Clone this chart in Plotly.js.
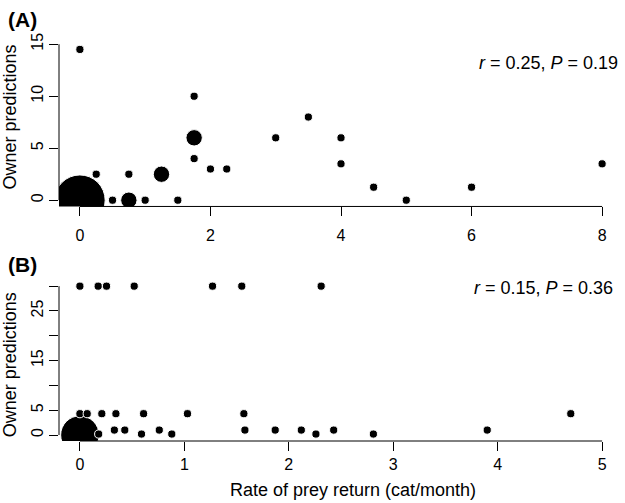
<!DOCTYPE html>
<html>
<head>
<meta charset="utf-8">
<script src="https://cdn.plot.ly/plotly-3.0.1.min.js"></script>
<style>
  body { margin: 0; background: #fff; }
  #chart { width: 625px; height: 503px; }
</style>
</head>
<body>
<div id="chart"></div>
<script>
// panel A: prey return rate vs owner predictions
var rateA = [0, 0, 0.25, 0.5, 0.75, 0.75, 1, 1.25, 1.5, 1.75, 1.75, 1.75, 2, 2.25, 3, 3.5, 4, 4, 4.5, 5, 6, 8];
var predA = [0, 14.5, 2.5, 0, 0, 2.5, 0, 2.5, 0, 10, 6, 4, 3, 3, 6, 8, 6, 3.5, 1.25, 0, 1.25, 3.5];
var catsA = [38, 1, 1, 1, 4, 1, 1, 4, 1, 1, 4, 1, 1, 1, 1, 1, 1, 1, 1, 1, 1, 1];

// panel B
var rateB = [0,
  0, 0.175, 0.255, 0.52, 1.27, 1.55, 2.31,
  0, 0.07, 0.21, 0.345, 0.61, 1.03, 1.57, 4.7,
  0.33, 0.43, 0.76, 1.58, 1.87, 2.12, 2.43, 3.9,
  0.18, 0.59, 0.88, 2.26, 2.81];
var predB = [0,
  30, 30, 30, 30, 30, 30, 30,
  4.3, 4.3, 4.3, 4.3, 4.3, 4.3, 4.3, 4.3,
  1, 1, 1, 1, 1, 1, 1, 1,
  0.2, 0.2, 0.2, 0.2, 0.2];
var catsB = [22].concat(rateB.slice(1).map(function() { return 1; }));

var ticksXA = [0, 2, 4, 6, 8];
var ticksYA = [0, 5, 10, 15];
var ticksXB = [0, 1, 2, 3, 4, 5];
var ticksYB = [0, 5, 10, 15, 20, 25, 30];
var labelsYB = ["0", "5", "", "15", "", "25", ""];

var font = "Liberation Sans, Arial, sans-serif";

function sizes(n) {
    return n.map(function(v) { return 8.2 * Math.sqrt(v); });
}

var data = [
    { x: rateA, y: predA, type: "scatter", mode: "markers", xaxis: "x", yaxis: "y",
      marker: { color: "#000", opacity: 1, size: sizes(catsA) } },
    { x: rateB, y: predB, type: "scatter", mode: "markers", xaxis: "x2", yaxis: "y2",
      marker: { color: "#000", opacity: 1, size: sizes(catsB) } }
];

var axisBase = {
    showgrid: false, zeroline: false, showline: false,
    ticks: "outside", ticklen: 9, tickwidth: 1, tickcolor: "#000",
    tickfont: { family: font, size: 16, color: "#000" }
};

function axis(extra) {
    return Object.assign({}, axisBase, extra);
}

// R style axis lines that only span the ticks
function axisLines(xr, yr, tx, ty) {
    return [
        { type: "line", xref: xr, yref: yr + " domain", x0: tx[0], x1: tx[tx.length - 1], y0: 0, y1: 0,
          line: { color: "#000", width: 1 } },
        { type: "line", xref: xr + " domain", yref: yr, x0: 0, x1: 0, y0: ty[0], y1: ty[ty.length - 1],
          line: { color: "#000", width: 1 } }
    ];
}

function note(text, x, y, opts) {
    return Object.assign({ text: text, xref: "paper", yref: "paper", x: x, y: y,
        xanchor: "center", yanchor: "middle",
        showarrow: false, font: { family: font, size: 18, color: "#000" } }, opts || {});
}

var layout = {
    width: 625, height: 503,
    margin: { l: 59, r: 2, t: 38, b: 62 },
    paper_bgcolor: "#fff", plot_bgcolor: "#fff",
    showlegend: false, hovermode: false,
    xaxis: axis({ domain: [0, 1], range: [-0.32, 8.32], tickvals: ticksXA, anchor: "y", ticklabelstandoff: 5 }),
    yaxis: axis({ domain: [0.582, 1], range: [-0.6, 15.6], tickvals: ticksYA, tickangle: -90, anchor: "x" }),
    xaxis2: axis({ domain: [0, 1], range: [-0.2, 5.2], tickvals: ticksXB, anchor: "y2" }),
    yaxis2: axis({ domain: [0, 0.399], range: [-1.2, 31.2], tickvals: ticksYB, ticktext: labelsYB,
                   tickangle: -90, anchor: "x2" }),
    shapes: axisLines("x", "y", ticksXA, ticksYA).concat(axisLines("x2", "y2", ticksXB, ticksYB)),
    annotations: [
        note("<b>(A)</b>", -0.094, 1.045, { xanchor: "left", font: { family: font, size: 21, color: "#000" } }),
        note("<b>(B)</b>", -0.094, 0.437, { xanchor: "left", font: { family: font, size: 21, color: "#000" } }),
        note("<i>r</i> = 0.25, <i>P</i> = 0.19", 0.995, 0.937, { xanchor: "right" }),
        note("<i>r</i> = 0.15, <i>P</i> = 0.36", 0.986, 0.379, { xanchor: "right" }),
        note("Owner predictions", -0.087, 0.805, { textangle: -90 }),
        note("Owner predictions", -0.087, 0.19, { textangle: -90 }),
        note("Rate of prey return (cat/month)", 0.521, -0.1216, {})
    ]
};

Plotly.newPlot("chart", data, layout, { displayModeBar: false, staticPlot: true });
</script>
</body>
</html>
